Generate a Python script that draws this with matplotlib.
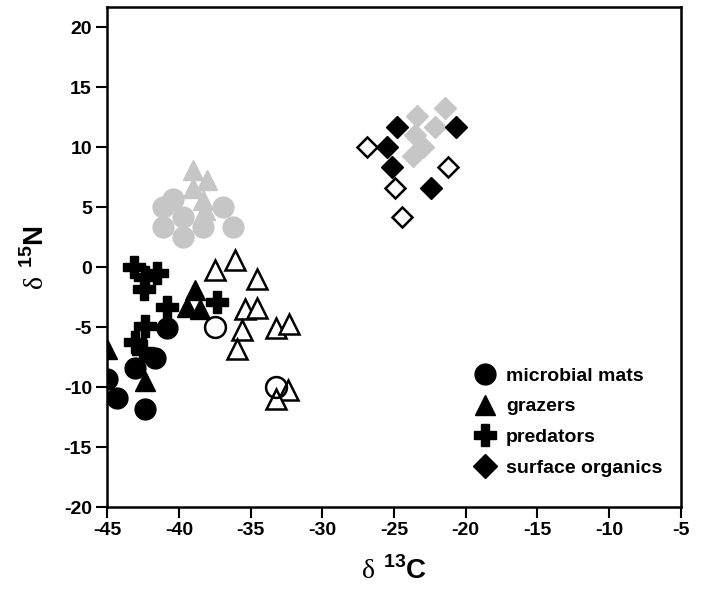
"""delta 13C vs delta 15N scatter: microbial mats, grazers, predators, surface organics."""

import matplotlib

matplotlib.use("Agg")

import matplotlib.pyplot as plt
from matplotlib.lines import Line2D

GRAY = "#c6c6c6"

# microbial mats
mats_black_x = [-45.0, -44.3, -42.35, -43.05, -41.65, -40.85]
mats_black_y = [-9.3, -10.9, -11.8, -8.4, -7.6, -5.1]
mats_gray_x = [-40.4, -41.1, -39.7, -41.1, -39.7, -38.3, -36.9, -36.2]
mats_gray_y = [5.7, 5.0, 4.2, 3.4, 2.5, 3.4, 5.0, 3.4]
mats_open_x = [-37.45, -33.2]
mats_open_y = [-5.0, -10.0]

# grazers
graz_black_x = [-45.0, -42.35, -38.9, -39.45, -38.5]
graz_black_y = [-6.8, -9.5, -1.9, -3.3, -3.5]
graz_gray_x = [-39.0, -38.05, -39.0, -38.3, -38.2]
graz_gray_y = [8.1, 7.3, 6.6, 5.6, 4.8]
graz_open_x = [-37.45, -36.1, -34.55, -35.4, -34.55, -35.6, -35.95, -33.2, -32.3, -32.4, -33.2]
graz_open_y = [-0.2, 0.6, -1.0, -3.5, -3.4, -5.2, -6.8, -5.1, -4.7, -10.2, -11.0]

# predators
pred_x = [-43.15, -42.35, -41.55, -42.45, -40.85, -37.35, -42.35, -43.05, -42.5]
pred_y = [0.0, -0.8, -0.5, -1.8, -3.3, -2.9, -4.9, -6.2, -7.0]

# surface organics
surf_black_x = [-24.8, -20.65, -25.5, -25.15, -22.4]
surf_black_y = [11.7, 11.7, 10.0, 8.4, 6.6]
surf_gray_x = [-23.4, -21.45, -22.15, -23.55, -23.65, -22.95]
surf_gray_y = [12.6, 13.3, 11.7, 11.0, 9.3, 10.0]
surf_open_x = [-26.9, -24.9, -24.45, -21.2]
surf_open_y = [10.0, 6.6, 4.2, 8.4]

legend_labels = ["microbial mats", "grazers", "predators", "surface organics"]

plt.rcParams["font.family"] = ["Liberation Sans", "DejaVu Sans"]
plt.rcParams["axes.unicode_minus"] = False
plt.rcParams["mathtext.fontset"] = "custom"
plt.rcParams["mathtext.rm"] = "Liberation Serif"
plt.rcParams["mathtext.bf"] = "Liberation Sans:bold"

fig = plt.figure(figsize=(7.01, 5.89), dpi=100)
ax = fig.add_axes([0.153, 0.139, 0.818, 0.849])

ms = 15
ew = 1.8

# grey points (behind)
ax.plot(mats_gray_x, mats_gray_y, "o", ms=ms, color=GRAY, mec=GRAY)
ax.plot(graz_gray_x, graz_gray_y, "^", ms=ms, color=GRAY, mec=GRAY)
ax.plot(surf_gray_x, surf_gray_y, "D", ms=ms * 0.78, color=GRAY, mec=GRAY)

# open points
ax.plot(graz_open_x, graz_open_y, "^", ms=ms, mfc="white", mec="black", mew=ew)
ax.plot(mats_open_x, mats_open_y, "o", ms=ms, mfc="none", mec="black", mew=ew)
ax.plot(surf_open_x, surf_open_y, "D", ms=ms * 0.7, mfc="white", mec="black", mew=ew)

# black points
ax.plot(pred_x, pred_y, "P", ms=ms * 1.05, color="black")
ax.plot(mats_black_x, mats_black_y, "o", ms=ms, color="black")
ax.plot(graz_black_x, graz_black_y, "^", ms=ms, color="black")
ax.plot(surf_black_x, surf_black_y, "D", ms=ms * 0.78, color="black")

ax.set_xlim(-45, -5)
ax.set_ylim(-20, 21.7)
ax.set_xticks(range(-45, -4, 5))
ax.set_yticks(range(-20, 21, 5))
ax.tick_params(direction="out", length=8, width=1.5, labelsize=14, pad=3)
for lab in ax.get_xticklabels() + ax.get_yticklabels():
    lab.set_fontweight("bold")
for sp in ax.spines.values():
    sp.set_linewidth(1.8)

ax.set_xlabel(r"$\mathrm{\delta}\ ^{\mathbf{13}}\mathbf{C}$", fontsize=20, labelpad=12)
ax.set_ylabel(r"$\mathrm{\delta}\ ^{\mathbf{15}}\mathbf{N}$", fontsize=20, labelpad=10)

handles = [
    Line2D([], [], ls="none", marker="o", ms=15, color="black"),
    Line2D([], [], ls="none", marker="^", ms=15, color="black"),
    Line2D([], [], ls="none", marker="P", ms=16, color="black"),
    Line2D([], [], ls="none", marker="D", ms=12, color="black"),
]
leg = ax.legend(
    handles,
    legend_labels,
    loc="lower left",
    bbox_to_anchor=(0.595, 0.025),
    frameon=False,
    handletextpad=0.05,
    labelspacing=0.68,
    prop={"weight": "bold", "size": 14},
)

fig.savefig("out.png", dpi=100)
